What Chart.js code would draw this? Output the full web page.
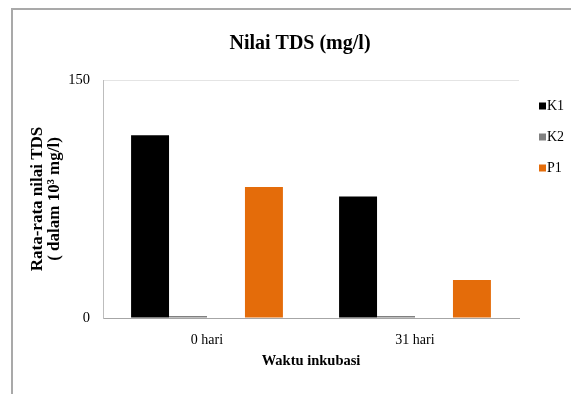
<!DOCTYPE html>
<html>
<head>
<meta charset="utf-8">
<script src="https://cdn.jsdelivr.net/npm/chart.js@4.4.0/dist/chart.umd.min.js"></script>
<style>
  html, body { margin: 0; padding: 0; background: #fff; overflow: hidden; }
  #wrap { position: relative; width: 571px; height: 394px; }
  canvas { position: absolute; left: 0; top: 0; }
  /* outer chart frame (only its top and left edges fall inside the page) */
  #frame { position: absolute; left: 11px; top: 8px; width: 620px; height: 440px;
           border-left: 2px solid #a9a9a9; border-top: 2px solid #a9a9a9; pointer-events: none; }
</style>
</head>
<body>
<div id="wrap">
  <canvas id="c" width="571" height="394"></canvas>
  <div id="frame"></div>
</div>
<script>
// TDS averages per incubation time (x10^3 mg/l)
const categories = ['0 hari', '31 hari'];
const seriesK1 = [115.2, 76.5];
const seriesK2 = [1.3, 1.3];
const seriesEmpty = [null, null];   // unused slot kept between K2 and P1
const seriesP1 = [82.6, 24.0];
const yTickValues = [0, 150];

const SERIF = "'Liberation Serif', 'Times New Roman', serif";

// simple legend drawn in the reserved strip right of the plot
const sideLegend = {
  id: 'sideLegend',
  afterDraw(chart) {
    const ctx = chart.ctx;
    const items = chart.data.datasets.filter(d => d.label);
    ctx.save();
    ctx.font = '14px ' + SERIF;
    ctx.textBaseline = 'middle';
    ctx.textAlign = 'left';
    items.forEach((d, i) => {
      const y = 106 + i * 31;
      ctx.fillStyle = d.backgroundColor;
      ctx.fillRect(539, y - 3.5, 7, 7);
      ctx.fillStyle = '#000';
      ctx.fillText(d.label, 547, y);
    });
    ctx.restore();
  }
};

new Chart(document.getElementById('c'), {
  type: 'bar',
  data: {
    labels: categories,
    datasets: [
      { label: 'K1', data: seriesK1, backgroundColor: '#000000' },
      { label: 'K2', data: seriesK2, backgroundColor: '#808080' },
      { label: '', data: seriesEmpty, backgroundColor: 'rgba(0,0,0,0)' },
      { label: 'P1', data: seriesP1, backgroundColor: '#E46C0A' }
    ]
  },
  options: {
    responsive: false,
    animation: false,
    devicePixelRatio: 1,
    layout: { padding: { left: 29, right: 0, top: 32, bottom: 24 } },
    datasets: { bar: { categoryPercentage: 0.73, barPercentage: 1.0, borderWidth: 0 } },
    plugins: {
      legend: { display: false },
      tooltip: { enabled: false },
      title: {
        display: true,
        text: 'Nilai TDS (mg/l)',
        color: '#000',
        font: { family: SERIF, size: 20, weight: 'bold' },
        padding: { top: 0, bottom: 24 }
      }
    },
    scales: {
      x: {
        grid: { display: false, drawTicks: false },
        border: { display: true, color: '#a6a6a6', width: 1 },
        ticks: { color: '#000', font: { family: SERIF, size: 14 }, padding: 14 },
        title: {
          display: true,
          text: 'Waktu inkubasi',
          color: '#000',
          font: { family: SERIF, size: 14.5, weight: 'bold' },
          padding: { top: 0, bottom: 0 }
        },
        afterFit(scale) { scale.height = 52; }
      },
      y: {
        min: 0,
        max: 150,
        afterBuildTicks(scale) { scale.ticks = yTickValues.map(v => ({ value: v })); },
        grid: {
          drawTicks: false,
          color: ctx => (ctx.tick && ctx.tick.value === 150) ? '#e4e4e4' : 'rgba(0,0,0,0)'
        },
        border: { display: true, color: '#bdbdbd', width: 1 },
        ticks: { color: '#000', font: { family: SERIF, size: 14.5 }, padding: 13 },
        title: {
          display: true,
          text: ['Rata-rata nilai TDS', '( dalam 10\u00B3 mg/l)'],
          color: '#000',
          font: { family: SERIF, size: 17, weight: 'bold', lineHeight: 0.95 },
          padding: { top: 1, bottom: 0 }
        },
        afterFit(scale) { scale.width = 74; }
      },
      // blank right-hand strip that holds the legend
      legendStrip: {
        type: 'linear',
        position: 'right',
        display: true,
        grid: { display: false, drawTicks: false },
        border: { display: false },
        ticks: { display: false },
        afterFit(scale) { scale.width = 52; }
      }
    }
  },
  plugins: [sideLegend]
});
</script>
</body>
</html>
